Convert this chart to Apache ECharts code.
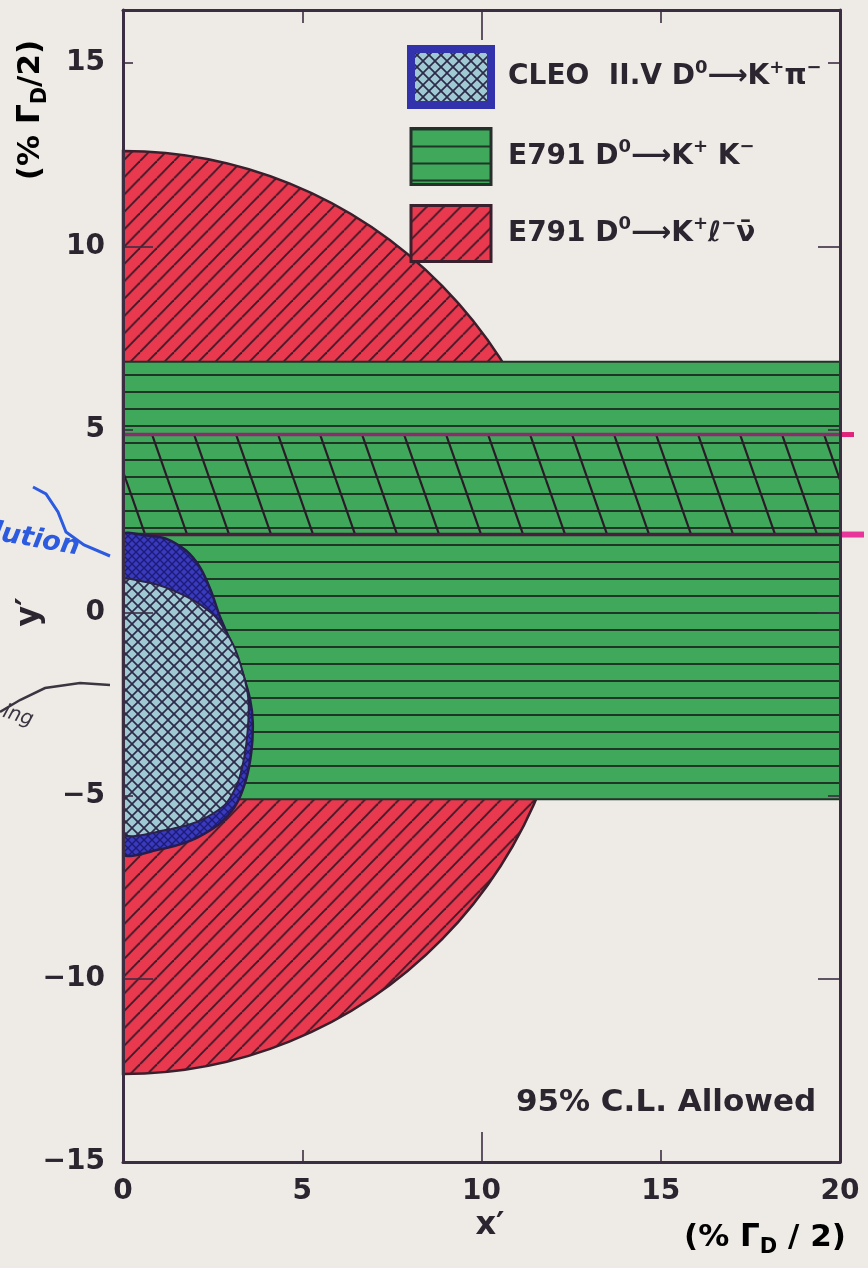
<!DOCTYPE html>
<html><head><meta charset="utf-8">
<script src="https://cdn.jsdelivr.net/npm/echarts@6/dist/echarts.min.js"></script>
<style>html,body{margin:0;padding:0;background:#eeebe7;}#c{width:868px;height:1268px;}</style>
</head><body><div id="c"></div>
<script>
// ---------- data (units: % of Gamma_D/2) ----------
const xLabelTicks = [0, 5, 10, 15, 20];
const yLabelTicks = [-15, -10, -5, 0, 5, 10, 15];
const xMinorTicks = [5, 15];
const xMajorTicks = [10];
const yMinorTicks = [-5, 5, 15];
const yMajorTicks = [-10, 0, 10];
const seriesNames = ['CLEO II.V D0→K+π−', 'E791 D0→K+K−', 'E791 D0→K+ℓ−ν̄'];
// E791 semileptonic: allowed disc [x centre, y centre, radius]
const semiLeptonic = [[0, 0, 12.6]];
// E791 K+K- : allowed band [x from, x to, y low, y high]
const kkBand = [[0, 20, -5.1, 6.85]];
// hand-marked band on the scan [x from, x to, y low, y high]
const markedBand = [[0, 20, 2.13, 4.86]];
// CLEO 95% CL outer contour
const cleoOuterX = [0, 0.6, 1.2, 1.75, 2.15, 2.45, 2.7, 3.05, 3.35, 3.55, 3.62, 3.58, 3.42, 3.12, 2.65, 1.9, 1.0, 0];
const cleoOuterY = [2.12, 2.11, 2.02, 1.7, 1.23, 0.6, -0.1, -0.9, -1.7, -2.4, -3.0, -3.8, -4.6, -5.3, -5.8, -6.22, -6.47, -6.56];
// CLEO inner (cross-hatched) contour
const cleoInnerX = [0, 0.6, 1.2, 1.8, 2.15, 2.6, 3.07, 3.36, 3.5, 3.48, 3.38, 3.18, 2.84, 2.15, 1.23, 0];
const cleoInnerY = [0.87, 0.84, 0.68, 0.42, 0.22, -0.14, -0.87, -1.69, -2.4, -3.2, -3.96, -4.7, -5.25, -5.68, -5.93, -6.0];

// ---------- styling ----------
const FONT = 'DejaVu Sans';
const INK = '#2b2530';
const FRAME = '#3b2d42';

function tile(w, h, bg, draw) {
  const c = document.createElement('canvas');
  c.width = w; c.height = h;
  const g = c.getContext('2d');
  if (bg) { g.fillStyle = bg; g.fillRect(0, 0, w, h); }
  draw(g, w, h);
  return { image: c, repeat: 'repeat' };
}
function line(g, x0, y0, x1, y1) { g.beginPath(); g.moveTo(x0, y0); g.lineTo(x1, y1); g.stroke(); }

const redPat = tile(17, 17, '#e8394f', (g, w, h) => {
  g.strokeStyle = '#3d1a28'; g.lineWidth = 1.8;
  for (const k of [-w, 0, w]) line(g, k, h, k + w, 0);
});
const greenPat = tile(8, 17, '#40a85b', (g, w, h) => {
  g.fillStyle = '#1f3526'; g.fillRect(0, 0, w, 2);
});
const cyanPat = tile(12, 12, '#a0cad3', (g, w, h) => {
  g.strokeStyle = '#2e2b4a'; g.lineWidth = 1.7;
  for (const k of [-w, 0, w]) { line(g, k, 0, k + w, h); line(g, k, h, k + w, 0); }
});
const bluePat = tile(8, 8, '#3a3abf', (g, w, h) => {
  g.strokeStyle = '#1c1c78'; g.lineWidth = 1.4;
  for (const k of [-w, 0, w]) { line(g, k, 0, k + w, h); line(g, k, h, k + w, 0); }
});
const hatchPat = tile(42, 120, null, (g, w, h) => {
  g.strokeStyle = '#2a1a28'; g.lineWidth = 2.2;
  for (const k of [-w, 0, w]) line(g, k, 0, k + w, h);
});

const richText = {
  t: { fontFamily: FONT, fontWeight: 'bold', fontSize: 28, color: INK, lineHeight: 36, verticalAlign: 'middle' },
  s: { fontFamily: FONT, fontWeight: 'bold', fontSize: 18, color: INK, lineHeight: 20, verticalAlign: 'top' },
  b: { fontFamily: FONT, fontWeight: 'bold', fontSize: 19, color: INK, lineHeight: 18, verticalAlign: 'bottom' },
  T: { fontFamily: FONT, fontWeight: 'bold', fontSize: 31, color: INK, lineHeight: 40, verticalAlign: 'middle' },
  B: { fontFamily: FONT, fontWeight: 'bold', fontSize: 21, color: INK, lineHeight: 20, verticalAlign: 'bottom' },
  g: { width: 12, fontSize: 10 }
};
const legendRich = {
  [seriesNames[0]]: '{g| }{t|CLEO  II.V D}{s|0}{t|⟶K}{s|+}{t|π}{s|−}',
  [seriesNames[1]]: '{g| }{t|E791 D}{s|0}{t|⟶K}{s|+}{t| K}{s|−}',
  [seriesNames[2]]: '{g| }{t|E791 D}{s|0}{t|⟶K}{s|+}{t|ℓ}{s|−}{t|ν̄}'
};

function polyItem(xs, ys, fill, stroke, lw) {
  return function (params, api) {
    const pts = xs.map((x, i) => api.coord([x, ys[i]]));
    const cs = params.coordSys;
    return {
      type: 'polygon',
      shape: { points: pts, smooth: 0.25 },
      clipPath: { type: 'rect', shape: { x: cs.x, y: cs.y, width: cs.width, height: cs.height } },
      style: { fill: fill, stroke: stroke, lineWidth: lw }
    };
  };
}

const axisCommon = { type: 'value', splitLine: { show: false }, z: 10 };
const tickStyle = { color: FRAME, width: 1.6 };
const labelStyle = { fontFamily: FONT, fontWeight: 'bold', fontSize: 28, color: INK };
const minusFmt = v => (v < 0 ? '−' + Math.abs(v) : String(v));
const mainLine = { show: true, onZero: false, lineStyle: { color: FRAME, width: 3 } };
const noLine = { show: false, onZero: false };

const chart = echarts.init(document.getElementById('c'), null, { renderer: 'canvas' });

const option = {
  backgroundColor: '#eeebe7',
  animation: false,
  grid: { left: 123, right: 28, top: 10, bottom: 106, containLabel: false },
  xAxis: [
    Object.assign({}, axisCommon, { min: 0, max: 20, interval: 5, position: 'bottom',
      axisLine: mainLine,
      axisTick: { show: true, inside: true, length: 12, customValues: xMinorTicks, lineStyle: tickStyle },
      axisLabel: Object.assign({ customValues: xLabelTicks, margin: 16, formatter: minusFmt }, labelStyle) }),
    Object.assign({}, axisCommon, { min: 0, max: 20, interval: 5, position: 'bottom',
      axisLine: noLine,
      axisTick: { show: true, inside: true, length: 30, customValues: xMajorTicks, lineStyle: tickStyle },
      axisLabel: { show: false } }),
    Object.assign({}, axisCommon, { min: 0, max: 20, interval: 5, position: 'top',
      axisLine: mainLine,
      axisTick: { show: true, inside: true, length: 13, customValues: xMinorTicks, lineStyle: tickStyle },
      axisLabel: { show: false } }),
    Object.assign({}, axisCommon, { min: 0, max: 20, interval: 5, position: 'top',
      axisLine: noLine,
      axisTick: { show: true, inside: true, length: 30, customValues: xMajorTicks, lineStyle: tickStyle },
      axisLabel: { show: false } })
  ],
  yAxis: [
    Object.assign({}, axisCommon, { min: -15, max: 16.45, interval: 5, position: 'left',
      axisLine: mainLine,
      axisTick: { show: true, inside: true, length: 10, customValues: yMinorTicks, lineStyle: tickStyle },
      axisLabel: Object.assign({ customValues: yLabelTicks, margin: 18, formatter: minusFmt }, labelStyle) }),
    Object.assign({}, axisCommon, { min: -15, max: 16.45, interval: 5, position: 'left',
      axisLine: noLine,
      axisTick: { show: true, inside: true, length: 30, customValues: yMajorTicks, lineStyle: tickStyle },
      axisLabel: { show: false } }),
    Object.assign({}, axisCommon, { min: -15, max: 16.45, interval: 5, position: 'right',
      axisLine: mainLine,
      axisTick: { show: true, inside: true, length: 12, customValues: yMinorTicks, lineStyle: tickStyle },
      axisLabel: { show: false } }),
    Object.assign({}, axisCommon, { min: -15, max: 16.45, interval: 5, position: 'right',
      axisLine: noLine,
      axisTick: { show: true, inside: true, length: 22, customValues: yMajorTicks, lineStyle: tickStyle },
      axisLabel: { show: false } })
  ],
  legend: {
    orient: 'vertical', left: 402, top: 40, itemWidth: 80, itemHeight: 56, itemGap: 18,
    icon: 'rect', selectedMode: false,
    formatter: name => legendRich[name],
    textStyle: { rich: richText },
    data: [
      { name: seriesNames[0], itemStyle: { color: cyanPat, borderColor: '#3232ad', borderWidth: 8 } },
      { name: seriesNames[1], itemStyle: { color: greenPat, borderColor: '#26302a', borderWidth: 3 } },
      { name: seriesNames[2], itemStyle: { color: redPat, borderColor: '#3a1f2c', borderWidth: 3 } }
    ]
  },
  series: [
    { type: 'custom', name: seriesNames[2], data: semiLeptonic, z: 2,
      itemStyle: { color: redPat },
      renderItem(params, api) {
        const c = api.coord([api.value(0), api.value(1)]);
        const s = api.size([api.value(2), api.value(2)]);
        return { type: 'sector', x: c[0], y: c[1], scaleY: s[1] / s[0],
          shape: { cx: 0, cy: 0, r: s[0], r0: 0, startAngle: -Math.PI / 2, endAngle: Math.PI / 2, clockwise: true },
          style: { fill: redPat, stroke: '#3a1f2c', lineWidth: 2.5 } };
      } },
    { type: 'custom', name: seriesNames[1], data: kkBand, z: 3,
      itemStyle: { color: greenPat },
      renderItem(params, api) {
        const p0 = api.coord([api.value(0), api.value(3)]);
        const p1 = api.coord([api.value(1), api.value(2)]);
        return { type: 'rect', shape: { x: p0[0], y: p0[1], width: p1[0] - p0[0], height: p1[1] - p0[1] },
          style: { fill: greenPat, stroke: '#26302a', lineWidth: 2 } };
      } },
    { type: 'custom', name: 'marked', data: markedBand, z: 4,
      renderItem(params, api) {
        const p0 = api.coord([api.value(0), api.value(3)]);
        const p1 = api.coord([api.value(1), api.value(2)]);
        return { type: 'group', children: [
          { type: 'rect', shape: { x: p0[0], y: p0[1], width: p1[0] - p0[0], height: p1[1] - p0[1] },
            style: { fill: hatchPat } },
          { type: 'line', shape: { x1: p0[0], y1: p0[1], x2: p1[0] + 14, y2: p0[1] },
            style: { stroke: '#8a2d6c', lineWidth: 3.5 } },
          { type: 'line', shape: { x1: p0[0], y1: p1[1], x2: p1[0] + 24, y2: p1[1] },
            style: { stroke: '#4a1f3e', lineWidth: 3.5 } },
          { type: 'line', shape: { x1: p1[0] + 2, y1: p0[1], x2: p1[0] + 14, y2: p0[1] },
            style: { stroke: '#e0247a', lineWidth: 5 } },
          { type: 'line', shape: { x1: p1[0] + 2, y1: p1[1], x2: p1[0] + 24, y2: p1[1] },
            style: { stroke: '#e8359a', lineWidth: 6 } }
        ] };
      } },
    { type: 'custom', name: seriesNames[0], data: [[0]], z: 5,
      itemStyle: { color: cyanPat },
      renderItem: polyItem(cleoOuterX, cleoOuterY, bluePat, '#251d4e', 2.5) },
    { type: 'custom', name: 'CLEO inner', data: [[0]], z: 6,
      renderItem: polyItem(cleoInnerX, cleoInnerY, cyanPat, '#2a2248', 2) }
  ],
  graphic: [
    { type: 'text', x: 31, y: 110, rotation: Math.PI / 2,
      style: { text: '{T|(% Γ}{B|D}{T|/2)}', rich: richText, align: 'center', verticalAlign: 'middle' } },
    { type: 'text', x: 30, y: 612, rotation: Math.PI / 2,
      style: { text: 'y′', fontFamily: FONT, fontWeight: 'bold', fontSize: 32, fill: INK, align: 'center', verticalAlign: 'middle' } },
    { type: 'text', x: 490, y: 1226,
      style: { text: 'x′', fontFamily: FONT, fontWeight: 'bold', fontSize: 32, fill: INK, align: 'center', verticalAlign: 'middle' } },
    { type: 'text', x: 765, y: 1238,
      style: { text: '{T|(% Γ}{B|D}{T| / 2)}', rich: richText, align: 'center', verticalAlign: 'middle' } },
    { type: 'text', x: 666, y: 1103,
      style: { text: '95% C.L. Allowed', fontFamily: FONT, fontWeight: 'bold', fontSize: 31, fill: INK, align: 'center', verticalAlign: 'middle' } },
    { type: 'text', x: 36, y: 540, rotation: -0.18,
      style: { text: 'lution', fontFamily: 'DejaVu Sans', fontStyle: 'italic', fontWeight: 'bold', fontSize: 27, fill: '#2c5be0', align: 'center', verticalAlign: 'middle' } },
    { type: 'polyline', shape: { points: [[33, 487], [46, 494], [58, 512], [66, 532], [84, 545], [110, 556]] },
      style: { stroke: '#2c5be0', lineWidth: 3, fill: null } },
    { type: 'polyline', shape: { points: [[0, 712], [20, 700], [45, 688], [80, 683], [110, 685]] },
      style: { stroke: '#3a3540', lineWidth: 2.5, fill: null } },
    { type: 'text', x: 18, y: 716, rotation: -0.3,
      style: { text: 'ing', fontFamily: 'DejaVu Sans', fontStyle: 'italic', fontSize: 20, fill: '#3a3540', align: 'center', verticalAlign: 'middle' } }
  ]
};
chart.setOption(option);
</script>
</body></html>
